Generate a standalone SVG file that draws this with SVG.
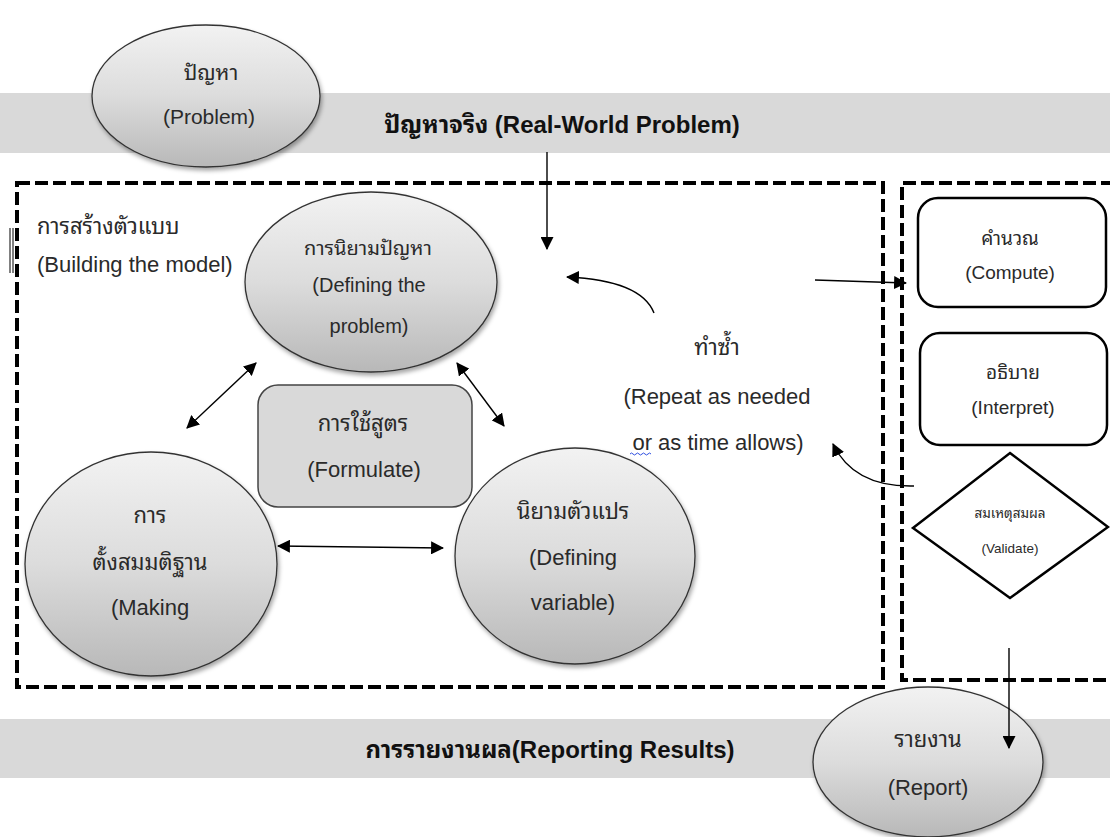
<svg xmlns="http://www.w3.org/2000/svg" width="1110" height="837" viewBox="0 0 1110 837">
  <defs>
    <linearGradient id="ballFill" x1="0" y1="0" x2="0" y2="1">
      <stop offset="0" stop-color="#f2f2f2"/>
      <stop offset="0.5" stop-color="#dcdcdc"/>
      <stop offset="1" stop-color="#b8b8b8"/>
    </linearGradient>
    <filter id="shadow" x="-10%" y="-10%" width="125%" height="125%">
      <feDropShadow dx="1.5" dy="3" stdDeviation="2" flood-color="#000" flood-opacity="0.35"/>
    </filter>
    <marker id="head" viewBox="0 0 12 12" refX="11" refY="6" markerWidth="13" markerHeight="13" markerUnits="userSpaceOnUse" orient="auto-start-reverse">
      <path d="M0,0 L12,6 L0,12 z" fill="#000"/>
    </marker>
  </defs>
  <style>
    text { font-family: "Liberation Sans", "Noto Sans Thai Looped", "Noto Sans Thai", "Noto Sans", sans-serif; fill: #2a2a2a; text-anchor: middle; }
    .band { fill: #d9d9d9; }
    .title { font-size: 24px; font-weight: bold; fill: #111; }
    .ball { fill: url(#ballFill); stroke: #333; stroke-width: 1.3; filter: url(#shadow); }
    .frame { fill: none; stroke: #000; stroke-width: 4; stroke-dasharray: 13 5; }
    .step { fill: #fff; stroke: #000; stroke-width: 2.5; }
    .link { fill: none; stroke: #000; stroke-width: 1.4; }
    .f22 { font-size: 22px; }
    .f21 { font-size: 21px; }
    .f20 { font-size: 20px; }
    .f19 { font-size: 19px; }
    .f13 { font-size: 13.5px; }
    .left { text-anchor: start; }
  </style>

  <rect width="1110" height="837" fill="#fff"/>

  <!-- horizontal bands -->
  <rect class="band" x="0" y="93" width="1110" height="60"/>
  <rect class="band" x="0" y="719" width="1110" height="59"/>

  <g id="problem">
    <ellipse class="ball" cx="206" cy="96" rx="114" ry="71"/>
    <text class="f21" x="211" y="80">ปัญหา</text>
    <text class="f21" x="209" y="124">(Problem)</text>
  </g>

  <text class="title" x="562" y="133">ปัญหาจริง (Real-World Problem)</text>

  <!-- dashed frames -->
  <rect class="frame" x="17" y="183" width="866" height="504"/>
  <path class="frame" d="M1114,183 H902 V680 H1114"/>
  <path d="M10,228 V273 M13,228 V273" stroke="#000" stroke-width="1"/>

  <text class="f22 left" x="37" y="234">การสร้างตัวแบบ</text>
  <text class="f22 left" x="37" y="272">(Building the model)</text>

  <g id="define-problem">
    <ellipse class="ball" cx="371" cy="282" rx="126" ry="90"/>
    <text class="f20" x="368" y="255">การนิยามปัญหา</text>
    <text class="f20" x="369" y="292">(Defining the</text>
    <text class="f20" x="369" y="333">problem)</text>
  </g>

  <g id="formulate">
    <rect x="258" y="385" width="214" height="122" rx="20" fill="#d9d9d9" stroke="#444" stroke-width="1.5"/>
    <text class="f22" x="363" y="431">การใช้สูตร</text>
    <text class="f22" x="364" y="477">(Formulate)</text>
  </g>

  <g id="assumptions">
    <ellipse class="ball" cx="151" cy="564" rx="126" ry="112"/>
    <text class="f22" x="150" y="523">การ</text>
    <text class="f22" x="150" y="570">ตั้งสมมติฐาน</text>
    <text class="f22" x="150" y="615">(Making</text>
  </g>

  <g id="define-variable">
    <ellipse class="ball" cx="575" cy="556" rx="120" ry="108"/>
    <text class="f22" x="573" y="519">นิยามตัวแปร</text>
    <text class="f22" x="573" y="565">(Defining</text>
    <text class="f22" x="573" y="610">variable)</text>
  </g>

  <g id="repeat-note">
    <text class="f22" x="717" y="355">ทำซ้ำ</text>
    <text class="f22" x="717" y="404">(Repeat as needed</text>
    <text class="f22" x="718" y="450">or as time allows)</text>
    <path d="M630,454 q1.5,-2 3,0 t3,0 t3,0 t3,0 t3,0 t3,0 t3,0" fill="none" stroke="#3050e0" stroke-width="1"/>
  </g>

  <g id="compute">
    <rect class="step" x="918" y="198" width="188" height="109" rx="20"/>
    <text class="f19" x="1010" y="245">คำนวณ</text>
    <text class="f19" x="1010" y="279">(Compute)</text>
  </g>

  <g id="interpret">
    <rect class="step" x="920" y="333" width="187" height="112" rx="20"/>
    <text class="f19" x="1013" y="379">อธิบาย</text>
    <text class="f19" x="1013" y="414">(Interpret)</text>
  </g>

  <g id="validate">
    <polygon class="step" points="1010,453 1108,527 1010,598 913,528"/>
    <text class="f13" x="1010" y="518">สมเหตุสมผล</text>
    <text class="f13" x="1010" y="553">(Validate)</text>
  </g>

  <g id="report">
    <ellipse class="ball" cx="928" cy="762" rx="115" ry="75"/>
    <text class="f22" x="928" y="747">รายงาน</text>
    <text class="f22" x="928" y="795">(Report)</text>
  </g>

  <text class="title" x="550" y="758">การรายงานผล(Reporting Results)</text>

  <g id="connectors">
    <line class="link" x1="547" y1="152" x2="547" y2="249" marker-end="url(#head)"/>
    <path class="link" d="M654,313 C645,290 612,279 567,277" marker-end="url(#head)"/>
    <line class="link" x1="256" y1="363" x2="187" y2="428" marker-start="url(#head)" marker-end="url(#head)"/>
    <line class="link" x1="457" y1="363" x2="504" y2="426" marker-start="url(#head)" marker-end="url(#head)"/>
    <line class="link" x1="278" y1="546" x2="443" y2="548" marker-start="url(#head)" marker-end="url(#head)"/>
    <line class="link" x1="815" y1="280" x2="906" y2="283" marker-end="url(#head)"/>
    <path class="link" d="M914,486 C872,487 846,471 833,444" marker-end="url(#head)"/>
    <line class="link" x1="1009" y1="648" x2="1009" y2="748" marker-end="url(#head)"/>
  </g>
</svg>
